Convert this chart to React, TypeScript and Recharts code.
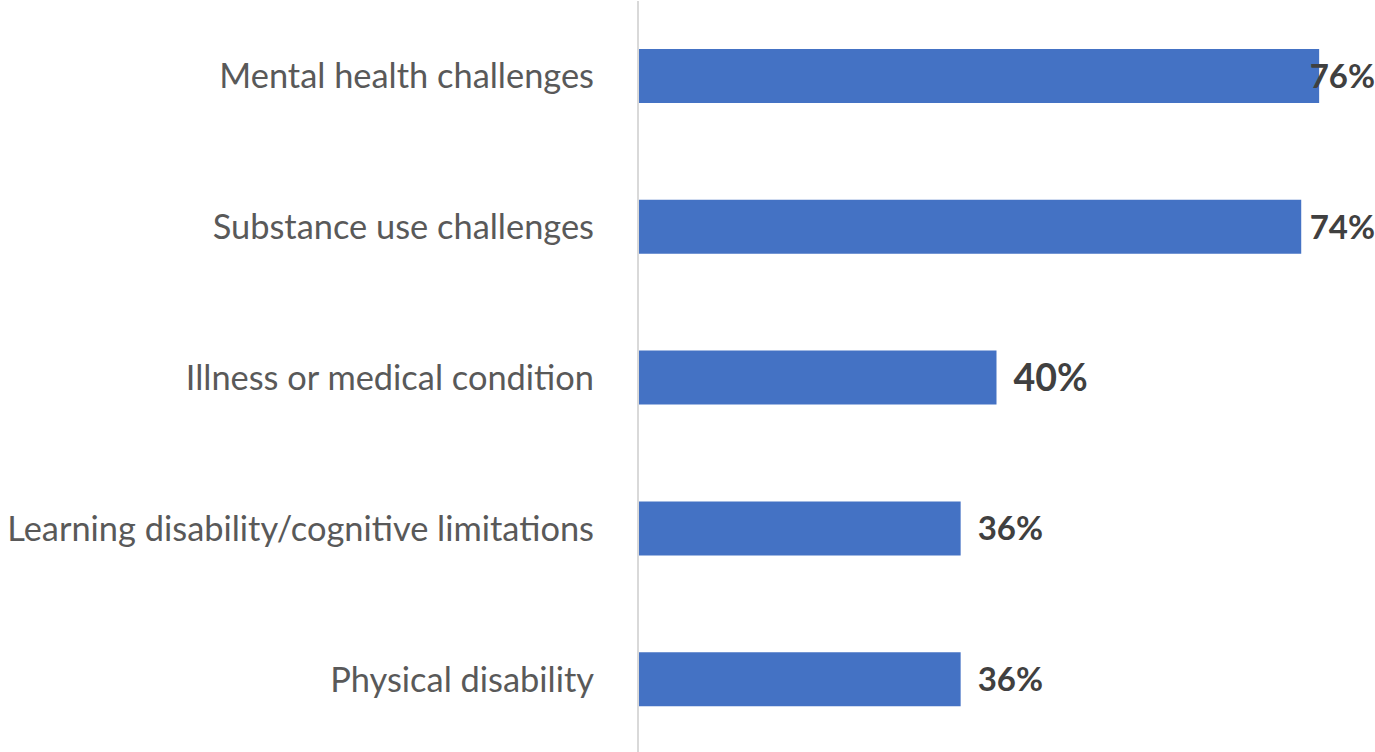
import React from "react";
import { BarChart, Bar, XAxis, YAxis, LabelList } from "recharts";

const categories = [
  "Mental health challenges",
  "Substance use challenges",
  "Illness or medical condition",
  "Learning disability/cognitive limitations",
  "Physical disability",
];
const values = [76, 74, 40, 36, 36];
const labelSizes = [33, 33, 37.5, 33, 33];

const data = categories.map((name, i) => ({ name, value: values[i] }));

const W = 1375;
const H = 752;
const FONT = "Lato, 'Open Sans', sans-serif";

function CategoryTick(props: any) {
  const { x, y, payload } = props;
  return (
    <text
      x={x}
      y={y}
      dy={12}
      textAnchor="end"
      fill="#595959"
      fontSize={34.4}
      fontFamily={FONT}
    >
      {payload.value}
    </text>
  );
}

function ValueLabel(props: any) {
  const { x, y, width, height, value, index } = props;
  const size = labelSizes[index];
  const text = `${value}%`;
  const est = size * 1.95;
  const end = x + width;
  let tx = end + 17;
  let anchor = "start";
  if (tx + est > W) {
    tx = W;
    anchor = "end";
  }
  return (
    <text
      x={tx}
      y={y + height / 2}
      dy={size * 0.36}
      textAnchor={anchor}
      fill="#404040"
      fontWeight="bold"
      fontSize={size}
      fontFamily={FONT}
    >
      {text}
    </text>
  );
}

export default function App() {
  return (
    <div style={{ position: "absolute", left: 0, top: 0, background: "#fff" }}>
      <BarChart
        width={W}
        height={H}
        data={data}
        layout="vertical"
        margin={{ top: 1, right: 20, bottom: -3, left: 0 }}
      >
        <XAxis type="number" domain={[0, 80]} hide />
        <YAxis
          type="category"
          dataKey="name"
          width={638}
          axisLine={{ stroke: "#d9d9d9", strokeWidth: 2 }}
          tickLine={false}
          tickSize={0}
          tickMargin={44}
          tick={<CategoryTick />}
          interval={0}
        />
        <Bar dataKey="value" fill="#4472C4" barSize={54} isAnimationActive={false}>
          <LabelList dataKey="value" content={<ValueLabel />} />
        </Bar>
      </BarChart>
    </div>
  );
}
